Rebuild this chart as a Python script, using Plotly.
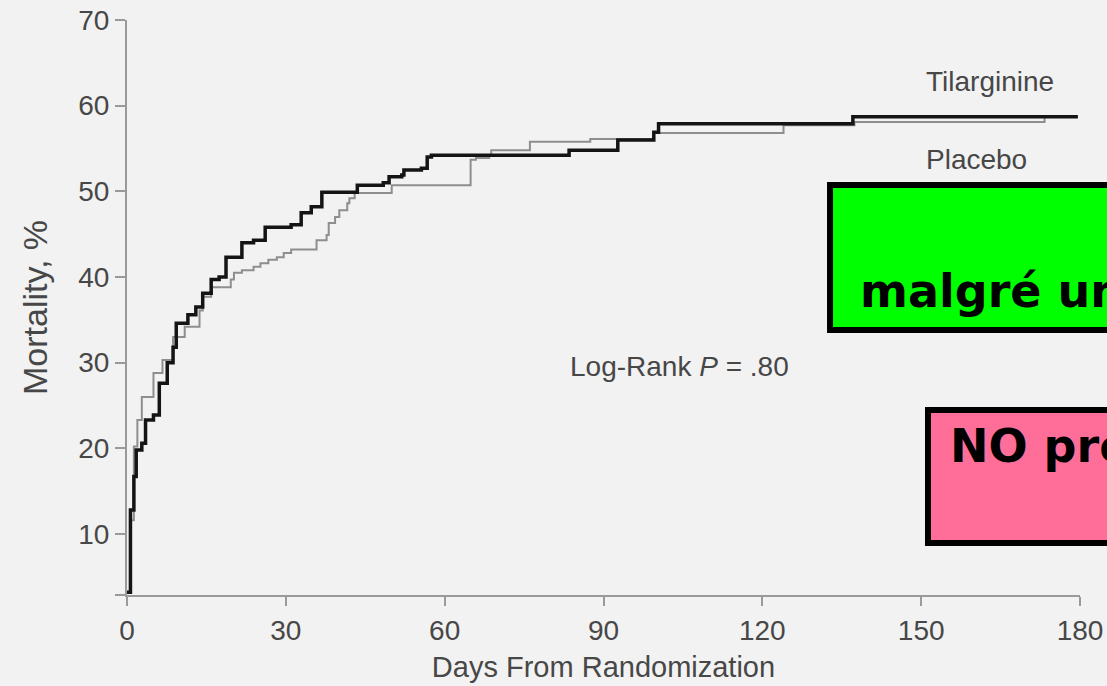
import plotly.graph_objects as go

# Tilarginine (thick black) - days, mortality %
tila_days = [0, 0.65, 1.3, 1.74, 2.8, 3.5, 5.0, 6.1, 7.6, 8.7, 9.3, 11.5, 13.0, 14.3, 15.9,
             17.4, 18.7, 21.7, 23.9, 26.1, 31.0, 32.9, 34.8, 36.8, 43.5, 48.4, 49.5, 51.9,
             52.3, 55.6, 56.7, 57.5, 83.5, 92.7, 99.5, 100.4, 137.1, 179.6]
tila_mort = [3.2, 12.8, 16.7, 19.8, 20.6, 23.3, 23.9, 27.6, 30.0, 31.8, 34.6, 35.6, 36.5, 38.1, 39.7,
             40.0, 42.3, 44.0, 44.3, 45.8, 46.1, 47.5, 48.2, 49.9, 50.7, 51.0, 51.7, 51.9,
             52.5, 52.7, 54.0, 54.2, 54.8, 56.0, 56.9, 57.9, 58.7, 58.7]

# Placebo (thin gray)
plac_days = [0, 0.65, 1.3, 1.96, 2.8, 5.0, 6.7, 8.7, 10.9, 13.7, 14.3, 15.9, 19.6, 20.2, 21.7,
             23.9, 25.2, 26.7, 28.3, 29.6, 31.0, 35.8, 37.7, 38.1, 39.3, 40.1, 41.6, 42.0, 43.0,
             50.0, 64.9, 65.9, 68.4, 68.8, 76.1, 87.5, 99.5, 124.0, 137.4, 173.3]
plac_mort = [3.2, 11.6, 20.2, 23.3, 26.0, 28.8, 30.3, 33.0, 34.2, 36.1, 37.7, 38.8, 39.7, 40.5, 40.8,
             41.2, 41.6, 42.0, 42.3, 42.8, 43.2, 44.3, 44.9, 46.3, 47.0, 47.8, 48.6, 49.2, 49.8,
             50.7, 53.7, 53.9, 54.2, 54.8, 55.8, 56.1, 56.8, 57.7, 58.1, 58.6]

x_ticks = [0, 30, 60, 90, 120, 150, 180]
y_ticks = [10, 20, 30, 40, 50, 60, 70]
Y_MIN = 2.88

TXT = "#474747"
AX = "#9a9a9a"
FONT = "Liberation Sans"
BOX_FONT = "DejaVu Sans"

fig = go.Figure()
fig.add_trace(go.Scatter(x=plac_days, y=plac_mort, mode="lines", line_shape="hv",
                         line=dict(color="#8e8e8e", width=2), name="Placebo",
                         showlegend=False))
fig.add_trace(go.Scatter(x=tila_days, y=tila_mort, mode="lines", line_shape="hv",
                         line=dict(color="#141414", width=3.5), name="Tilarginine",
                         showlegend=False))

fig.add_annotation(x=163.0, y=62.8, text="Tilarginine", showarrow=False,
                   font=dict(family=FONT, size=28, color=TXT))
fig.add_annotation(x=160.5, y=53.7, text="Placebo", showarrow=False,
                   font=dict(family=FONT, size=28, color=TXT))
fig.add_annotation(x=104.4, y=29.5, text="Log-Rank <i>P</i> = .80", showarrow=False,
                   font=dict(family=FONT, size=28, color=TXT))

# overlay boxes (they run past the right edge, as in the reference)
fig.add_shape(type="rect", xref="paper", yref="paper", x0=0.7377, x1=1.3, y0=0.4609, y1=0.713,
              fillcolor="#00ff00", line=dict(color="black", width=6), layer="above")
fig.add_shape(type="rect", xref="paper", yref="paper", x0=0.8405, x1=1.3, y0=0.0904, y1=0.3217,
              fillcolor="#ff6e99", line=dict(color="black", width=6), layer="above")
fig.add_annotation(xref="paper", yref="paper", x=0.767, y=0.528, xanchor="left", yanchor="middle",
                   text="<b>malgré un</b>", showarrow=False,
                   font=dict(family=BOX_FONT, size=46, color="black"))
fig.add_annotation(xref="paper", yref="paper", x=0.862, y=0.26, xanchor="left", yanchor="middle",
                   text="<b>NO pro</b>", showarrow=False,
                   font=dict(family=BOX_FONT, size=46, color="black"))

fig.update_layout(
    width=1107, height=686,
    margin=dict(l=127, r=27, t=20, b=91, autoexpand=False),
    paper_bgcolor="#f2f2f2", plot_bgcolor="#f2f2f2",
    font=dict(family=FONT, color=TXT, size=28),
    xaxis=dict(range=[0, 180], tickvals=x_ticks, ticks="outside", ticklen=9, tickwidth=2,
               tickcolor=AX, showline=True, linecolor=AX, linewidth=2, showgrid=False,
               zeroline=False, automargin=False, tickfont=dict(size=28, color=TXT),
               title=dict(text="Days From Randomization", font=dict(size=29, color=TXT), standoff=12)),
    yaxis=dict(range=[Y_MIN, 70], tickvals=[Y_MIN] + y_ticks, ticktext=[""] + [str(v) for v in y_ticks],
               ticks="outside", ticklen=10, tickwidth=2, tickcolor=AX, showline=True, linecolor=AX,
               linewidth=2, showgrid=False, zeroline=False, automargin=False,
               tickfont=dict(size=28, color=TXT),
               title=dict(text="Mortality, %", font=dict(size=34, color=TXT), standoff=20)),
)

fig.write_html("out.html")
